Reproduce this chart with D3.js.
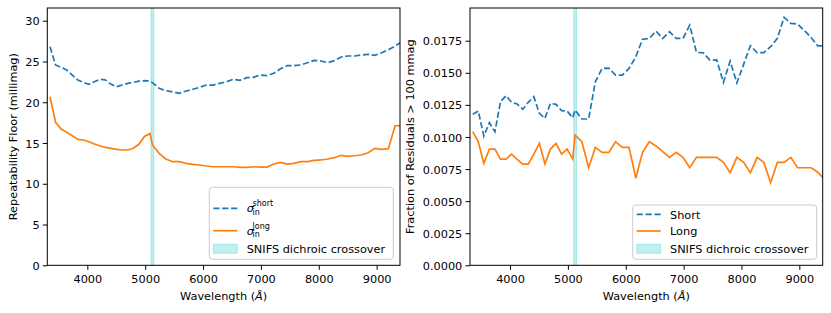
<!DOCTYPE html>
<html><head><meta charset="utf-8">
<script src="https://cdn.jsdelivr.net/npm/d3@7"></script>
<style>
body{margin:0;background:#fff;}
svg text{font-family:"DejaVu Sans",sans-serif;fill:#000;}
</style></head>
<body><svg id="c" width="831" height="313"></svg>
<script>
// Wavelength grid (Å): blue channel then red channel
const wlBlue = [3355,3451,3547,3643,3739,3835,3931,4027,4123,4219,4315,4411,4507,4603,4699,4795,4891,4987,5083];
const wlRed = [5125,5241.5,5358,5474.5,5591,5707.5,5824,5940.5,6057,6173.5,6290,6406.5,6523,6639.5,6756,6872.5,6989,7105.5,7222,7338.5,7455,7571.5,7688,7804.5,7921,8037.5,8154,8270.5,8387,8503.5,8620,8736.5,8853,8969.5,9086,9202.5,9319,9435.5];
const wavelength = wlBlue.concat(wlRed);

// Left panel: repeatability floor (millimag)
const floorShort = [26.81,24.57,24.28,23.95,23.34,22.73,22.44,22.2,22.52,22.81,22.73,22.2,21.91,22.11,22.32,22.44,22.6,22.64,22.6,
  22.4,21.71,21.42,21.26,21.1,21.38,21.59,21.83,22.11,22.11,22.32,22.52,22.81,22.69,23.01,23.06,23.34,23.26,23.55,24.11,24.48,24.48,24.57,24.85,25.14,25.06,24.85,25.1,25.55,25.67,25.67,25.79,25.88,25.76,26.08,26.44,26.9,27.4];
const floorLong = [20.68,17.54,16.72,16.31,15.9,15.45,15.37,15.16,14.88,14.63,14.47,14.35,14.23,14.14,14.14,14.35,14.84,15.8,16.15,
  14.76,13.74,13.04,12.71,12.71,12.51,12.39,12.3,12.18,12.09,12.09,12.09,12.09,12.02,12.02,12.09,12.05,12.05,12.42,12.63,12.42,12.51,12.71,12.71,12.88,12.92,13.04,13.2,13.49,13.37,13.44,13.53,13.81,14.35,14.23,14.3,17.12,17.15];

// Right panel: fraction of residuals > 100 mmag
const fracShort = [0.01177,0.01202,0.01007,0.01111,0.01041,0.01275,0.01322,0.0127,0.01257,0.01216,0.0127,0.01314,0.01184,0.01145,0.01262,0.01254,0.01205,0.01202,0.0115,
  0.0121,0.0114,0.0114,0.0143,0.01534,0.01537,0.01482,0.01482,0.01534,0.01625,0.01762,0.01768,0.01825,0.01768,0.0182,0.01768,0.01768,0.01871,0.01659,0.01656,0.01599,0.016,0.01425,0.01591,0.01422,0.01566,0.01711,0.01657,0.01657,0.01703,0.01769,0.01932,0.01885,0.0188,0.0183,0.01775,0.0171,0.0171];
const fracLong = [0.01041,0.00963,0.00794,0.00906,0.00906,0.00828,0.00828,0.00867,0.00826,0.00789,0.00789,0.00867,0.0095,0.00789,0.00906,0.0095,0.00867,0.00906,0.00828,
  0.01015,0.00963,0.0076,0.00919,0.0088,0.0088,0.00963,0.00919,0.00919,0.00678,0.0088,0.00963,0.0093,0.00885,0.00841,0.0088,0.00841,0.0076,0.00841,0.00841,0.00841,0.00841,0.00802,0.00722,0.00841,0.00802,0.00722,0.00841,0.00802,0.00644,0.00802,0.00802,0.00841,0.0076,0.0076,0.0076,0.00725,0.0067];

const xTicks = [4000,5000,6000,7000,8000,9000];
const yTicksLeft = [0,5,10,15,20,25,30];
const yTicksRight = [0,0.0025,0.005,0.0075,0.01,0.0125,0.015,0.0175];
const crossover = [5100,5150];
const legendRight = ["Short","Long","SNIFS dichroic crossover"];

const svg = d3.select("#c");
const FS = 11.3;
const BLUE = "#1f77b4", ORANGE = "#ff7f0e", CYAN = "#00bfbf";
const DASH = "6.2,2.7";

function panel(opt){
  const {x0,x1,y0,y1,ydom,yticks,yfmt,ys,yl,ylabel,ylabelX,id} = opt;
  const x = d3.scaleLinear().domain([3308,9404]).range([x0,x1]);
  const y = d3.scaleLinear().domain(ydom).range([y1,y0]);
  const g = svg.append("g");
  g.append("clipPath").attr("id",id).append("rect")
    .attr("x",x0).attr("y",y0).attr("width",x1-x0).attr("height",y1-y0);
  const plot = g.append("g").attr("clip-path",`url(#${id})`);
  // crossover band
  plot.append("rect").attr("x",x(crossover[0])).attr("y",y0)
    .attr("width",x(crossover[1])-x(crossover[0])).attr("height",y1-y0)
    .attr("fill",CYAN).attr("fill-opacity",0.25)
    .attr("stroke",CYAN).attr("stroke-opacity",0.25).attr("stroke-width",1);
  const line = d3.line().x((d,i)=>x(wavelength[i])).y(d=>y(d));
  plot.append("path").datum(ys).attr("d",line).attr("fill","none")
    .attr("stroke",BLUE).attr("stroke-width",1.7).attr("stroke-dasharray",DASH);
  plot.append("path").datum(yl).attr("d",line).attr("fill","none")
    .attr("stroke",ORANGE).attr("stroke-width",1.7);
  // axes
  const xa = g.append("g").attr("transform",`translate(0,${y1})`)
    .call(d3.axisBottom(x).tickValues(xTicks).tickSize(4.5).tickPadding(3.2).tickFormat(d3.format("d")));
  const ya = g.append("g").attr("transform",`translate(${x0},0)`)
    .call(d3.axisLeft(y).tickValues(yticks).tickSize(4.5).tickPadding(3.2).tickFormat(yfmt));
  [xa,ya].forEach(a=>{
    a.selectAll(".domain").remove();
    a.selectAll("text").attr("font-size",FS).attr("font-family","DejaVu Sans").attr("fill","#000");
    a.selectAll("line").attr("stroke","#000").attr("stroke-width",1);
  });
  xa.selectAll("text").attr("dy",null).attr("y",null).attr("transform",null)
    .attr("y",17.4);
  ya.selectAll("text").attr("dy","0.36em");
  // spines
  g.append("rect").attr("x",x0).attr("y",y0).attr("width",x1-x0).attr("height",y1-y0)
    .attr("fill","none").attr("stroke","#000").attr("stroke-width",1);
  // labels
  const xl = g.append("text").attr("x",(x0+x1)/2).attr("y",299.5).attr("text-anchor","middle").attr("font-size",FS);
  xl.append("tspan").text("Wavelength (");
  xl.append("tspan").attr("font-style","italic").text("Å");
  xl.append("tspan").text(")");
  g.append("text").attr("transform",`translate(${ylabelX},${(y0+y1)/2}) rotate(-90)`)
    .attr("text-anchor","middle").attr("font-size",FS).text(ylabel);
  return g;
}

const gl = panel({x0:47.3,x1:400,y0:8,y1:265.3,ydom:[0,31.56],yticks:yTicksLeft,yfmt:d3.format("d"),
  ys:floorShort,yl:floorLong,ylabel:"Repeatability Floor (millimag)",ylabelX:17.2,id:"clipL"});
const gr = panel({x0:470,x1:822.7,y0:8,y1:265.3,ydom:[0,0.02005],yticks:yTicksRight,yfmt:d3.format(".4f"),
  ys:fracShort,yl:fracLong,ylabel:"Fraction of Residuals > 100 mmag",ylabelX:414,id:"clipR"});

function legendBox(g,bx,by,bw,bh){
  g.append("rect").attr("x",bx).attr("y",by).attr("width",bw).attr("height",bh).attr("rx",3)
    .attr("fill","#fff").attr("fill-opacity",0.8).attr("stroke","#cccccc").attr("stroke-width",1);
}
function handles(g,hx0,hx1,rows){
  g.append("line").attr("x1",hx0).attr("x2",hx1).attr("y1",rows[0]).attr("y2",rows[0])
    .attr("stroke",BLUE).attr("stroke-width",1.7).attr("stroke-dasharray",DASH);
  g.append("line").attr("x1",hx0).attr("x2",hx1).attr("y1",rows[1]).attr("y2",rows[1])
    .attr("stroke",ORANGE).attr("stroke-width",1.7);
  g.append("rect").attr("x",hx0).attr("y",rows[2]-4.5).attr("width",hx1-hx0).attr("height",9)
    .attr("fill",CYAN).attr("fill-opacity",0.25).attr("stroke",CYAN).attr("stroke-opacity",0.25).attr("stroke-width",1);
}

// Left legend
legendBox(gl,209.3,187.3,184,72);
handles(gl,213.3,237.3,[208.3,230.7,248.8]);
[["short",212.4],["long",234.8]].forEach(([sup,base])=>{
  gl.append("text").attr("x",246.7).attr("y",base).attr("font-size",FS).attr("font-style","italic").text("σ");
  gl.append("text").attr("x",252.6).attr("y",base-6.2).attr("font-size",8).text(sup);
  gl.append("text").attr("x",252.6).attr("y",base+2.6).attr("font-size",8).text("in");
});
gl.append("text").attr("x",246.7).attr("y",253).attr("font-size",FS).text(legendRight[2]);

// Right legend
legendBox(gr,632.7,205,184,54.3);
handles(gr,636.7,660.7,[214.3,231,248.8]);
[218.5,235.2,253].forEach((b,i)=>{
  gr.append("text").attr("x",670).attr("y",b).attr("font-size",FS).text(legendRight[i]);
});
</script></body></html>
